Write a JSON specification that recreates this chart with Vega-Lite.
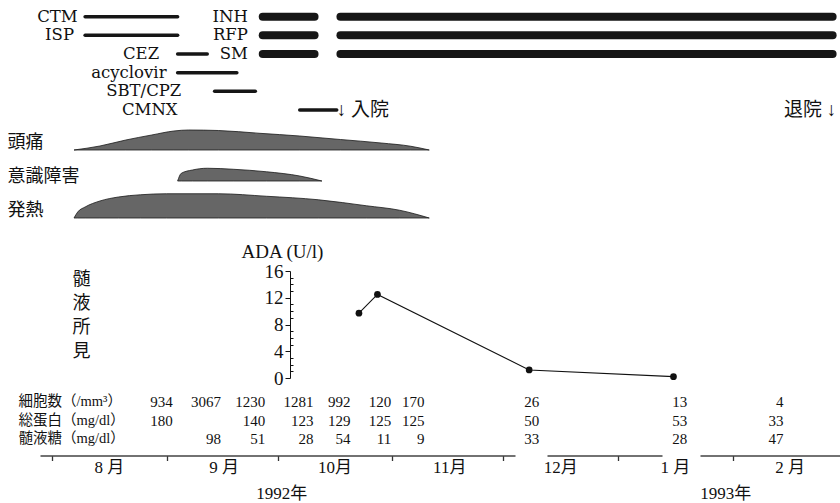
{
  "$schema": "https://vega.github.io/schema/vega-lite/v6.json",
  "width": 840,
  "height": 503,
  "padding": 0,
  "autosize": {"type": "fit", "contains": "padding"},
  "background": "white",
  "config": {"view": {"stroke": null}},
  "datasets": {
    "drugs": [
      {"drug": "CTM", "row": 1, "start": "1992-08-10", "end": "1992-09-04", "class": "抗菌薬"},
      {"drug": "ISP", "row": 2, "start": "1992-08-10", "end": "1992-09-04", "class": "抗菌薬"},
      {"drug": "CEZ", "row": 3, "start": "1992-09-04", "end": "1992-09-12", "class": "抗菌薬"},
      {"drug": "acyclovir", "row": 4, "start": "1992-09-04", "end": "1992-09-20", "class": "抗ウイルス薬"},
      {"drug": "SBT/CPZ", "row": 5, "start": "1992-09-14", "end": "1992-09-25", "class": "抗菌薬"},
      {"drug": "CMNX", "row": 6, "start": "1992-10-07", "end": "1992-10-17", "class": "抗菌薬"},
      {"drug": "INH", "row": 1, "start": "1992-09-27", "end": "1992-10-11", "class": "抗結核薬"},
      {"drug": "INH", "row": 1, "start": "1992-10-18", "end": "1993-02-28", "class": "抗結核薬"},
      {"drug": "RFP", "row": 2, "start": "1992-09-27", "end": "1992-10-11", "class": "抗結核薬"},
      {"drug": "RFP", "row": 2, "start": "1992-10-18", "end": "1993-02-28", "class": "抗結核薬"},
      {"drug": "SM", "row": 3, "start": "1992-09-27", "end": "1992-10-11", "class": "抗結核薬"},
      {"drug": "SM", "row": 3, "start": "1992-10-18", "end": "1993-02-28", "class": "抗結核薬"}
    ],
    "drugLabels": [
      {"label": "CTM", "row": 1, "at": "1992-08-08"},
      {"label": "ISP", "row": 2, "at": "1992-08-07"},
      {"label": "CEZ", "row": 3, "at": "1992-08-30"},
      {"label": "acyclovir", "row": 4, "at": "1992-09-01"},
      {"label": "SBT/CPZ", "row": 5, "at": "1992-09-05"},
      {"label": "CMNX", "row": 6, "at": "1992-09-04"},
      {"label": "INH", "row": 1, "at": "1992-09-23"},
      {"label": "RFP", "row": 2, "at": "1992-09-23"},
      {"label": "SM", "row": 3, "at": "1992-09-23"}
    ],
    "events": [
      {"event": "↓ 入院", "kind": "admission", "row": 6, "date": "1992-10-17"},
      {"event": "退院 ↓", "kind": "discharge", "row": 6, "date": "1993-03-01"}
    ],
    "symptoms": [
      {"symptom": "頭痛", "date": "1992-08-07", "level": 0},
      {"symptom": "頭痛", "date": "1992-08-14", "level": 1.6},
      {"symptom": "頭痛", "date": "1992-08-21", "level": 4.0},
      {"symptom": "頭痛", "date": "1992-08-28", "level": 6.0},
      {"symptom": "頭痛", "date": "1992-09-03", "level": 7.6},
      {"symptom": "頭痛", "date": "1992-09-07", "level": 8.0},
      {"symptom": "頭痛", "date": "1992-09-15", "level": 7.8},
      {"symptom": "頭痛", "date": "1992-09-26", "level": 6.7},
      {"symptom": "頭痛", "date": "1992-10-07", "level": 5.6},
      {"symptom": "頭痛", "date": "1992-10-18", "level": 4.2},
      {"symptom": "頭痛", "date": "1992-10-29", "level": 2.8},
      {"symptom": "頭痛", "date": "1992-11-06", "level": 1.5},
      {"symptom": "頭痛", "date": "1992-11-11", "level": 0},
      {"symptom": "意識障害", "date": "1992-09-04", "level": 0},
      {"symptom": "意識障害", "date": "1992-09-05", "level": 3.1},
      {"symptom": "意識障害", "date": "1992-09-08", "level": 4.4},
      {"symptom": "意識障害", "date": "1992-09-12", "level": 5.1},
      {"symptom": "意識障害", "date": "1992-09-19", "level": 4.7},
      {"symptom": "意識障害", "date": "1992-09-28", "level": 3.7},
      {"symptom": "意識障害", "date": "1992-10-07", "level": 2.0},
      {"symptom": "意識障害", "date": "1992-10-13", "level": 0},
      {"symptom": "発熱", "date": "1992-08-07", "level": 0},
      {"symptom": "発熱", "date": "1992-08-08", "level": 2.4},
      {"symptom": "発熱", "date": "1992-08-10", "level": 4.4},
      {"symptom": "発熱", "date": "1992-08-14", "level": 6.8},
      {"symptom": "発熱", "date": "1992-08-19", "level": 8.4},
      {"symptom": "発熱", "date": "1992-08-25", "level": 9.3},
      {"symptom": "発熱", "date": "1992-09-01", "level": 9.7},
      {"symptom": "発熱", "date": "1992-09-15", "level": 9.7},
      {"symptom": "発熱", "date": "1992-09-28", "level": 8.7},
      {"symptom": "発熱", "date": "1992-10-12", "level": 7.3},
      {"symptom": "発熱", "date": "1992-10-25", "level": 4.9},
      {"symptom": "発熱", "date": "1992-11-03", "level": 3.1},
      {"symptom": "発熱", "date": "1992-11-11", "level": 0}
    ],
    "symptomLabels": [
      {"symptom": "頭痛", "at": "1992-07-20"},
      {"symptom": "意識障害", "at": "1992-07-20"},
      {"symptom": "発熱", "at": "1992-07-20"}
    ],
    "ada": [
      {"date": "1992-10-23", "ada": 9.7},
      {"date": "1992-10-28", "ada": 12.5},
      {"date": "1992-12-08", "ada": 1.2},
      {"date": "1993-01-16", "ada": 0.2}
    ],
    "sectionLabel": [
      {"label": "髄\n液\n所\n見", "at": "1992-08-09"}
    ],
    "csf": [
      {"param": "細胞数", "date": "1992-08-31", "value": "934"},
      {"param": "細胞数", "date": "1992-09-13", "value": "3067"},
      {"param": "細胞数", "date": "1992-09-25", "value": "1230"},
      {"param": "細胞数", "date": "1992-10-08", "value": "1281"},
      {"param": "細胞数", "date": "1992-10-18", "value": "992"},
      {"param": "細胞数", "date": "1992-10-29", "value": "120"},
      {"param": "細胞数", "date": "1992-11-07", "value": "170"},
      {"param": "細胞数", "date": "1992-12-08", "value": "26"},
      {"param": "細胞数", "date": "1993-01-17", "value": "13"},
      {"param": "細胞数", "date": "1993-02-12", "value": "4"},
      {"param": "総蛋白", "date": "1992-08-31", "value": "180"},
      {"param": "総蛋白", "date": "1992-09-25", "value": "140"},
      {"param": "総蛋白", "date": "1992-10-08", "value": "123"},
      {"param": "総蛋白", "date": "1992-10-18", "value": "129"},
      {"param": "総蛋白", "date": "1992-10-29", "value": "125"},
      {"param": "総蛋白", "date": "1992-11-07", "value": "125"},
      {"param": "総蛋白", "date": "1992-12-08", "value": "50"},
      {"param": "総蛋白", "date": "1993-01-17", "value": "53"},
      {"param": "総蛋白", "date": "1993-02-12", "value": "33"},
      {"param": "髄液糖", "date": "1992-09-13", "value": "98"},
      {"param": "髄液糖", "date": "1992-09-25", "value": "51"},
      {"param": "髄液糖", "date": "1992-10-08", "value": "28"},
      {"param": "髄液糖", "date": "1992-10-18", "value": "54"},
      {"param": "髄液糖", "date": "1992-10-29", "value": "11"},
      {"param": "髄液糖", "date": "1992-11-07", "value": "9"},
      {"param": "髄液糖", "date": "1992-12-08", "value": "33"},
      {"param": "髄液糖", "date": "1993-01-17", "value": "28"},
      {"param": "髄液糖", "date": "1993-02-12", "value": "47"}
    ],
    "csfLabels": [
      {"param": "細胞数", "label": "細胞数（/mm³）", "at": "1992-07-23"},
      {"param": "総蛋白", "label": "総蛋白（mg/dl）", "at": "1992-07-23"},
      {"param": "髄液糖", "label": "髄液糖（mg/dl）", "at": "1992-07-23"}
    ]
  },
  "resolve": {"scale": {"y": "independent"}, "axis": {"x": "independent"}},
  "layer": [
    {
      "layer": [
        {
          "data": {"name": "drugs"},
          "transform": [{"filter": "datum.class !== '抗結核薬'"}],
          "mark": {"type": "rule", "strokeCap": "round", "strokeWidth": 3.5, "color": "#161616"},
          "encoding": {
            "x": {"field": "start", "type": "temporal", "scale": {"domain": [{"year": 1992, "month": 7, "date": 18, "utc": true}, {"year": 1993, "month": 3, "date": 2, "utc": true}], "nice": false}, "axis": null},
            "x2": {"field": "end"},
            "y": {"field": "row", "type": "ordinal", "scale": {"type": "point", "domain": [1, 2, 3, 4, 5, 6], "range": [16.7, 110], "padding": 0}, "axis": null}
          }
        },
        {
          "data": {"name": "drugs"},
          "transform": [{"filter": "datum.class === '抗結核薬'"}],
          "mark": {"type": "rule", "strokeCap": "round", "strokeWidth": 8, "color": "#161616"},
          "encoding": {
            "x": {"field": "start", "type": "temporal", "scale": {"domain": [{"year": 1992, "month": 7, "date": 18, "utc": true}, {"year": 1993, "month": 3, "date": 2, "utc": true}], "nice": false}, "axis": null},
            "x2": {"field": "end"},
            "y": {"field": "row", "type": "ordinal", "scale": {"type": "point", "domain": [1, 2, 3, 4, 5, 6], "range": [16.7, 110], "padding": 0}, "axis": null}
          }
        },
        {
          "data": {"name": "drugLabels"},
          "mark": {"type": "text", "align": "right", "baseline": "middle", "font": "DejaVu Serif", "fontSize": 16.5, "color": "#111"},
          "encoding": {
            "x": {"field": "at", "type": "temporal", "scale": {"domain": [{"year": 1992, "month": 7, "date": 18, "utc": true}, {"year": 1993, "month": 3, "date": 2, "utc": true}], "nice": false}, "axis": null},
            "y": {"field": "row", "type": "ordinal", "scale": {"type": "point", "domain": [1, 2, 3, 4, 5, 6], "range": [16.7, 110], "padding": 0}, "axis": null},
            "text": {"field": "label"}
          }
        },
        {
          "data": {"name": "events"},
          "transform": [{"filter": "datum.kind === 'admission'"}],
          "mark": {"type": "text", "align": "left", "baseline": "middle", "font": "Liberation Serif, Noto Sans CJK JP", "fontSize": 19, "color": "#111"},
          "encoding": {
            "x": {"field": "date", "type": "temporal", "scale": {"domain": [{"year": 1992, "month": 7, "date": 18, "utc": true}, {"year": 1993, "month": 3, "date": 2, "utc": true}], "nice": false}, "axis": null},
            "y": {"field": "row", "type": "ordinal", "scale": {"type": "point", "domain": [1, 2, 3, 4, 5, 6], "range": [16.7, 110], "padding": 0}, "axis": null},
            "text": {"field": "event"}
          }
        },
        {
          "data": {"name": "events"},
          "transform": [{"filter": "datum.kind === 'discharge'"}],
          "mark": {"type": "text", "align": "right", "baseline": "middle", "font": "Liberation Serif, Noto Sans CJK JP", "fontSize": 19, "color": "#111"},
          "encoding": {
            "x": {"field": "date", "type": "temporal", "scale": {"domain": [{"year": 1992, "month": 7, "date": 18, "utc": true}, {"year": 1993, "month": 3, "date": 2, "utc": true}], "nice": false}, "axis": null},
            "y": {"field": "row", "type": "ordinal", "scale": {"type": "point", "domain": [1, 2, 3, 4, 5, 6], "range": [16.7, 110], "padding": 0}, "axis": null},
            "text": {"field": "event"}
          }
        }
      ]
    },
    {
      "data": {"name": "symptoms"},
      "transform": [{"filter": "datum.symptom === '頭痛'"}],
      "mark": {"type": "area", "interpolate": "monotone", "color": "#666", "stroke": "#1a1a1a", "strokeWidth": 0.8},
      "encoding": {
        "x": {"field": "date", "type": "temporal", "scale": {"domain": [{"year": 1992, "month": 7, "date": 18, "utc": true}, {"year": 1993, "month": 3, "date": 2, "utc": true}], "nice": false}, "axis": null},
        "y": {"field": "level", "type": "quantitative", "scale": {"domain": [0, 10], "range": [150, 125], "nice": false}, "axis": null}
      }
    },
    {
      "data": {"name": "symptoms"},
      "transform": [{"filter": "datum.symptom === '意識障害'"}],
      "mark": {"type": "area", "interpolate": "monotone", "color": "#666", "stroke": "#1a1a1a", "strokeWidth": 0.8},
      "encoding": {
        "x": {"field": "date", "type": "temporal", "scale": {"domain": [{"year": 1992, "month": 7, "date": 18, "utc": true}, {"year": 1993, "month": 3, "date": 2, "utc": true}], "nice": false}, "axis": null},
        "y": {"field": "level", "type": "quantitative", "scale": {"domain": [0, 10], "range": [181, 156], "nice": false}, "axis": null}
      }
    },
    {
      "data": {"name": "symptoms"},
      "transform": [{"filter": "datum.symptom === '発熱'"}],
      "mark": {"type": "area", "interpolate": "monotone", "color": "#666", "stroke": "#1a1a1a", "strokeWidth": 0.8},
      "encoding": {
        "x": {"field": "date", "type": "temporal", "scale": {"domain": [{"year": 1992, "month": 7, "date": 18, "utc": true}, {"year": 1993, "month": 3, "date": 2, "utc": true}], "nice": false}, "axis": null},
        "y": {"field": "level", "type": "quantitative", "scale": {"domain": [0, 10], "range": [218, 193], "nice": false}, "axis": null}
      }
    },
    {
      "data": {"name": "symptomLabels"},
      "mark": {"type": "text", "align": "left", "baseline": "middle", "font": "Noto Sans CJK JP", "fontSize": 18, "color": "#111"},
      "encoding": {
        "x": {"field": "at", "type": "temporal", "scale": {"domain": [{"year": 1992, "month": 7, "date": 18, "utc": true}, {"year": 1993, "month": 3, "date": 2, "utc": true}], "nice": false}, "axis": null},
        "y": {"field": "symptom", "type": "nominal", "scale": {"type": "point", "domain": ["頭痛", "意識障害", "発熱"], "range": [143, 211], "padding": 0}, "axis": null},
        "text": {"field": "symptom"}
      }
    },
    {
      "data": {"name": "ada"},
      "mark": {"type": "line", "color": "#111", "strokeWidth": 1.1},
      "encoding": {
        "x": {"field": "date", "type": "temporal", "scale": {"domain": [{"year": 1992, "month": 7, "date": 18, "utc": true}, {"year": 1993, "month": 3, "date": 2, "utc": true}], "nice": false}, "axis": null},
        "y": {"field": "ada", "type": "quantitative", "scale": {"domain": [0, 16], "range": [378, 271], "nice": false, "zero": false},
          "axis": {"orient": "left", "offset": -290, "values": [1, 2, 3, 5, 6, 7, 9, 10, 11, 13, 14, 15], "tickSize": -3, "tickColor": "#111", "labels": false, "domain": false, "grid": false, "title": null}}
      }
    },
    {
      "data": {"name": "ada"},
      "mark": {"type": "point", "filled": true, "size": 45, "color": "#111", "opacity": 1},
      "encoding": {
        "x": {"field": "date", "type": "temporal", "scale": {"domain": [{"year": 1992, "month": 7, "date": 18, "utc": true}, {"year": 1993, "month": 3, "date": 2, "utc": true}], "nice": false}, "axis": null},
        "y": {"field": "ada", "type": "quantitative", "scale": {"domain": [0, 16], "range": [378, 271], "nice": false, "zero": false},
          "axis": {"orient": "left", "offset": -290, "values": [0, 4, 8, 12, 16], "tickSize": 5, "tickColor": "#111", "domainColor": "#111", "labelFont": "Liberation Serif", "labelFontSize": 19, "labelColor": "#111", "labelPadding": 2, "labelBaseline": "middle", "grid": false,
            "title": "ADA (U/l)", "titleAngle": 0, "titleX": -8, "titleY": 251, "titleAlign": "center", "titleBaseline": "middle", "titleFont": "Liberation Serif", "titleFontSize": 19, "titleFontWeight": "normal", "titleColor": "#111"}}
      }
    },
    {
      "data": {"name": "sectionLabel"},
      "mark": {"type": "text", "align": "center", "baseline": "middle", "lineBreak": "\n", "lineHeight": 24, "font": "Noto Sans CJK JP", "fontSize": 18, "color": "#111"},
      "encoding": {
        "x": {"field": "at", "type": "temporal", "scale": {"domain": [{"year": 1992, "month": 7, "date": 18, "utc": true}, {"year": 1993, "month": 3, "date": 2, "utc": true}], "nice": false},
          "axis": {"orient": "bottom", "offset": -10, "values": [{"year": 1992, "month": 10, "date": 2, "utc": true}, {"year": 1993, "month": 1, "date": 30, "utc": true}], "labelExpr": "utcFormat(datum.value, '%Y') + '年'", "ticks": false, "tickSize": 0, "domain": false, "grid": false, "labelPadding": 0, "labelBaseline": "middle", "labelFlush": false, "labelOverlap": false, "labelBound": false, "labelFont": "Liberation Serif, Noto Sans CJK JP", "labelFontSize": 17, "labelColor": "#111", "title": null}},
        "y": {"datum": 14.65, "type": "quantitative", "scale": {"domain": [0, 16], "range": [378, 271], "nice": false, "zero": false}, "axis": null},
        "text": {"field": "label"}
      }
    },
    {
      "data": {"name": "csf"},
      "mark": {"type": "text", "align": "right", "baseline": "middle", "dx": 10, "font": "Liberation Serif", "fontSize": 15, "color": "#111"},
      "encoding": {
        "x": {"field": "date", "type": "temporal", "scale": {"domain": [{"year": 1992, "month": 7, "date": 18, "utc": true}, {"year": 1993, "month": 3, "date": 2, "utc": true}], "nice": false},
          "axis": {"orient": "bottom", "offset": -47.5,
            "values": [{"year": 1992, "month": 8, "date": 1, "utc": true}, {"year": 1992, "month": 9, "date": 1, "utc": true}, {"year": 1992, "month": 10, "date": 1, "utc": true}, {"year": 1992, "month": 11, "date": 1, "utc": true}, {"year": 1992, "month": 12, "date": 1, "utc": true}, {"year": 1993, "month": 1, "date": 1, "utc": true}, {"year": 1993, "month": 2, "date": 1, "utc": true}],
            "labelExpr": "(utcmonth(datum.value) + 1) + ((utcmonth(datum.value) + 1) < 10 ? ' 月' : '月')",
            "labelOffset": 57, "labelFlush": false, "labelOverlap": false, "labelBound": false, "labelPadding": 7, "labelBaseline": "middle",
            "labelFont": "Liberation Serif, Noto Sans CJK JP", "labelFontSize": 17, "labelColor": "#111",
            "tickSize": 5, "tickColor": "#333", "tickWidth": 1.3,
            "domainColor": "#444", "domainWidth": 1.3, "domainDash": [0, 40, 475, 32, 115, 38, 145],
            "grid": false, "title": null}},
        "y": {"field": "param", "type": "nominal", "scale": {"type": "point", "domain": ["細胞数", "総蛋白", "髄液糖"], "range": [402, 439], "padding": 0}, "axis": null},
        "text": {"field": "value"}
      }
    },
    {
      "data": {"name": "csfLabels"},
      "mark": {"type": "text", "align": "left", "baseline": "middle", "font": "Liberation Serif, Noto Sans CJK JP", "fontSize": 14.5, "color": "#111"},
      "encoding": {
        "x": {"field": "at", "type": "temporal", "scale": {"domain": [{"year": 1992, "month": 7, "date": 18, "utc": true}, {"year": 1993, "month": 3, "date": 2, "utc": true}], "nice": false}, "axis": null},
        "y": {"field": "param", "type": "nominal", "scale": {"type": "point", "domain": ["細胞数", "総蛋白", "髄液糖"], "range": [402, 439], "padding": 0}, "axis": null},
        "text": {"field": "label"}
      }
    }
  ]
}
